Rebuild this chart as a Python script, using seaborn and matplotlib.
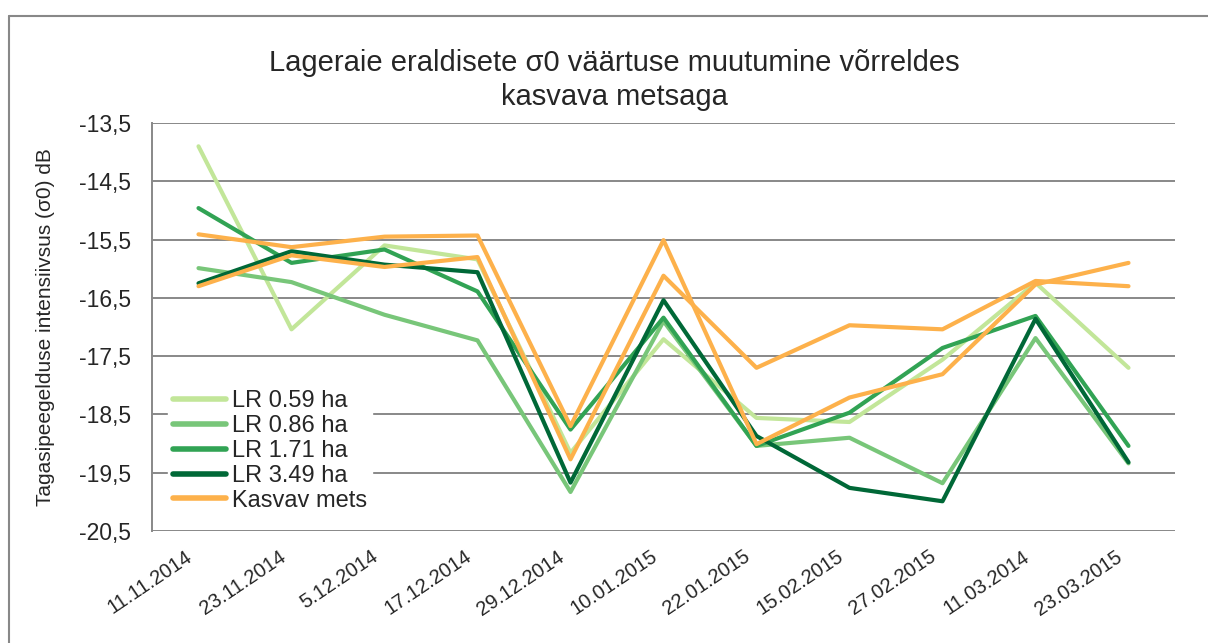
import pandas as pd
import seaborn as sns
import matplotlib.pyplot as plt
from matplotlib.lines import Line2D
from matplotlib.transforms import ScaledTranslation

# Data
dates = ['11.11.2014', '23.11.2014', '5.12.2014', '17.12.2014', '29.12.2014',
         '10.01.2015', '22.01.2015', '15.02.2015', '27.02.2015', '11.03.2014',
         '23.03.2015']

lr_059 = [-13.90, -17.04, -15.60, -15.84, -19.16, -17.21, -18.56, -18.63, -17.56, -16.24, -17.70]
lr_086 = [-15.99, -16.23, -16.79, -17.23, -19.83, -16.90, -19.04, -18.90, -19.68, -17.19, -19.34]
lr_171 = [-14.96, -15.90, -15.67, -16.39, -18.76, -16.84, -19.04, -18.47, -17.36, -16.81, -19.04]
lr_349 = [-16.25, -15.70, -15.93, -16.06, -19.67, -16.54, -18.87, -19.76, -19.99, -16.86, -19.32]
mets_a = [-15.41, -15.63, -15.45, -15.43, -18.70, -15.51, -19.01, -18.21, -17.81, -16.27, -15.90]
mets_b = [-16.30, -15.77, -15.97, -15.80, -19.27, -16.12, -17.70, -16.97, -17.04, -16.21, -16.30]

y_ticks = [-20.5, -19.5, -18.5, -17.5, -16.5, -15.5, -14.5, -13.5]

series = [
    ('LR 0.59 ha', lr_059, '#c2e699'),
    ('LR 0.86 ha', lr_086, '#78c679'),
    ('LR 1.71 ha', lr_171, '#31a354'),
    ('LR 3.49 ha', lr_349, '#006837'),
    ('Kasvav mets', mets_a, '#fdb14b'),
    ('_nolegend_', mets_b, '#fdb14b'),
]

sns.set_style('white')
plt.rcParams['font.family'] = ['Liberation Sans', 'DejaVu Sans']

fig = plt.figure(figsize=(12.08, 6.43), dpi=100)
ax = fig.add_axes([152 / 1208, 1 - 531 / 643, (1175 - 152) / 1208, (531 - 123) / 643])

for name, values, color in series:
    df = pd.DataFrame({'date': dates, 'value': values})
    sns.lineplot(data=df, x='date', y='value', color=color, linewidth=3,
                 label=name, sort=False, ax=ax)

ax.set_xlim(-0.5, len(dates) - 0.5)
ax.set_ylim(-20.5, -13.5)
ax.set_yticks(y_ticks)
ax.set_yticklabels([f'{v:.1f}'.replace('.', ',') for v in y_ticks], fontsize=16.5)
ax.set_xticks(range(len(dates)))
ax.set_xticklabels(dates, fontsize=14.5, rotation=34, ha='right', va='center',
                   rotation_mode='anchor')
ax.tick_params(axis='both', length=0)
ax.tick_params(axis='y', pad=15)
ax.tick_params(axis='x', pad=20)
shift = ScaledTranslation(-8 / 100, 4 / 100, fig.dpi_scale_trans)
for lbl in ax.get_xticklabels():
    lbl.set_transform(lbl.get_transform() + shift)
ax.grid(axis='y', color='#888888', linewidth=1.4)
ax.set_axisbelow(True)
for side in ['top', 'right', 'bottom']:
    ax.spines[side].set_visible(False)
ax.spines['left'].set_color('#888888')
ax.spines['left'].set_linewidth(1.4)

ax.set_xlabel('')
ax.set_ylabel('Tagasipeegelduse intensiivsus (σ0) dB', fontsize=15, labelpad=17)

leg = ax.legend(loc='center left', bbox_to_anchor=(0.0157, 0.196), fontsize=17,
                frameon=True, facecolor='white', edgecolor='white', framealpha=1,
                handlelength=2.25, handletextpad=0.25, labelspacing=0.12,
                borderpad=0.2, borderaxespad=0)
for line in leg.get_lines():
    line.set_linewidth(4)

fig.text(614 / 1208, 1 - 80 / 643,
         'Lageraie eraldisete σ0 väärtuse muutumine võrreldes\nkasvava metsaga',
         ha='center', va='center', fontsize=21, linespacing=1.25)

# outer chart frame (left and top edges visible)
fig.add_artist(Line2D([8.5 / 1208, 8.5 / 1208], [0, 1 - 15.5 / 643],
                      color='#888888', linewidth=1.5))
fig.add_artist(Line2D([8.5 / 1208, 1], [1 - 15.5 / 643, 1 - 15.5 / 643],
                      color='#888888', linewidth=1.5))

fig.savefig('out.png', dpi=100)
